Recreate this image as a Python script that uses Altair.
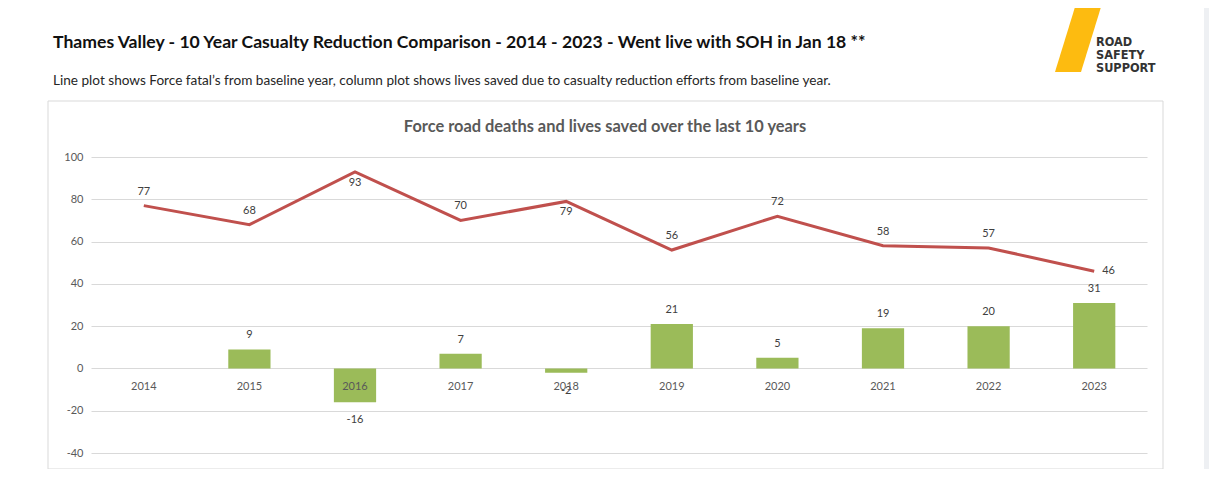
import altair as alt
import pandas as pd

# ---- data ----
years = ["2014", "2015", "2016", "2017", "2018", "2019", "2020", "2021", "2022", "2023"]
deaths = [77, 68, 93, 70, 79, 56, 72, 58, 57, 46]
saved = [None, 9, -16, 7, -2, 21, 5, 19, 20, 31]
y_ticks = [-40, -20, 0, 20, 40, 60, 80, 100]

header = "Thames Valley - 10 Year Casualty Reduction Comparison - 2014 - 2023 - Went live with SOH in Jan 18 **"
subheader = ("Line plot shows Force fatal\u2019s from baseline year, column plot shows lives saved "
             "due to casualty reduction efforts from baseline year.")
chart_title = "Force road deaths and lives saved over the last 10 years"
logo_lines = ["ROAD", "SAFETY", "SUPPORT"]
below_years = ["2016", "2018"]
right_years = ["2023"]

df = pd.DataFrame({"year": years, "deaths": deaths, "saved": saved})
one = pd.DataFrame({"k": [0]})

FONT = "Lato"
LINE_C = "#C0504D"
BAR_C = "#9BBB59"
LABEL_C = "#404040"

x_enc = alt.X(
    "year:N", sort=years,
    scale=alt.Scale(paddingInner=0.6, paddingOuter=0.3),
    axis=alt.Axis(title=None, labelAngle=0, domain=False, ticks=False, offset=-85,
                  labelPadding=12, labelFont=FONT, labelFontSize=11, labelColor="#595959",
                  zindex=1),
)
y_scale = alt.Scale(domain=[-40, 100], nice=False, zero=False)
y_axis = alt.Axis(title=None, values=y_ticks, domain=False, ticks=False, labelPadding=8,
                  labelFont=FONT, labelFontSize=11, labelColor="#595959",
                  labelExpr="'' + datum.value",
                  gridColor="#D9D9D9", gridWidth=1)

base = alt.Chart(df).transform_calculate(
    saved_lbl="'' + datum.saved", deaths_lbl="'' + datum.deaths"
)

bars = base.mark_bar(color=BAR_C).encode(
    x=x_enc, y=alt.Y("saved:Q", scale=y_scale, axis=y_axis)
)
bar_pos = base.transform_filter("datum.saved > 0").mark_text(
    baseline="bottom", dy=-9, font=FONT, fontSize=11, color=LABEL_C
).encode(x=x_enc, y=alt.Y("saved:Q", scale=y_scale), text="saved_lbl:N")
bar_neg = base.transform_filter("datum.saved < 0").mark_text(
    baseline="top", dy=12, font=FONT, fontSize=11, color=LABEL_C
).encode(x=x_enc, y=alt.Y("saved:Q", scale=y_scale), text="saved_lbl:N")

line = base.mark_line(color=LINE_C, strokeWidth=3).encode(
    x=x_enc, y=alt.Y("deaths:Q", scale=y_scale)
)
above_years = [y for y in years if y not in below_years + right_years]
lab_above = base.transform_filter(
    alt.FieldOneOfPredicate(field="year", oneOf=above_years)
).mark_text(baseline="middle", dy=-14, font=FONT, fontSize=11, color=LABEL_C).encode(
    x=x_enc, y=alt.Y("deaths:Q", scale=y_scale), text="deaths_lbl:N")
lab_below = base.transform_filter(
    alt.FieldOneOfPredicate(field="year", oneOf=below_years)
).mark_text(baseline="middle", dy=11, font=FONT, fontSize=11, color=LABEL_C).encode(
    x=x_enc, y=alt.Y("deaths:Q", scale=y_scale), text="deaths_lbl:N")
lab_right = base.transform_filter(
    alt.FieldOneOfPredicate(field="year", oneOf=right_years)
).mark_text(baseline="middle", align="left", dx=8, font=FONT, fontSize=11, color=LABEL_C).encode(
    x=x_enc, y=alt.Y("deaths:Q", scale=y_scale), text="deaths_lbl:N")

deco = alt.Chart(one)
frame = deco.mark_rect(fill="white", fillOpacity=0, stroke="#D9D9D9", strokeWidth=1).encode(
    x=alt.value(-43), x2=alt.value(1072), y=alt.value(-56), y2=alt.value(312))
t_header = deco.mark_text(text=header, align="left", baseline="middle", font=FONT,
                          fontSize=17.6, fontWeight="bold", color="#111111").encode(
    x=alt.value(-38), y=alt.value(-114))
t_sub = deco.mark_text(text=subheader, align="left", baseline="middle", font=FONT,
                       fontSize=13.6, color="#262626").encode(
    x=alt.value(-38), y=alt.value(-76))
t_title = deco.mark_text(text=chart_title, align="center", baseline="middle", font=FONT,
                         fontSize=16.4, fontWeight="bold", color="#595959").encode(
    x=alt.value(514), y=alt.value(-30))
logo_bar = deco.mark_point(
    shape="M -0.092 -1 L 0.708 -1 L 0.092 1 L -0.708 1 Z", filled=True,
    color="#FDBB10", opacity=1, size=4225, strokeWidth=0).encode(
    x=alt.value(987), y=alt.value(-117.5))
logo_texts = [
    deco.mark_text(text=t, align="left", baseline="alphabetic",
                   font="DejaVu Sans Condensed", fontSize=12.6, fontWeight="bold",
                   color="#333333").encode(x=alt.value(1005), y=alt.value(-111 + 13.2 * i))
    for i, t in enumerate(logo_lines)
]
strip = deco.mark_rect(color="#EEF0F3").encode(
    x=alt.value(1113), x2=alt.value(1120), y=alt.value(-160), y2=alt.value(330))

chart = alt.layer(
    frame, strip, t_header, t_sub, t_title, logo_bar, *logo_texts,
    bars, bar_pos, bar_neg, line, lab_above, lab_below, lab_right,
).properties(
    width=1056, height=296,
    padding={"left": 83, "top": 149, "right": 62, "bottom": 16},
    autosize="none", background="white",
).configure_view(stroke=None)

chart.save("out.html", embed_options={"renderer": "svg", "actions": False})
